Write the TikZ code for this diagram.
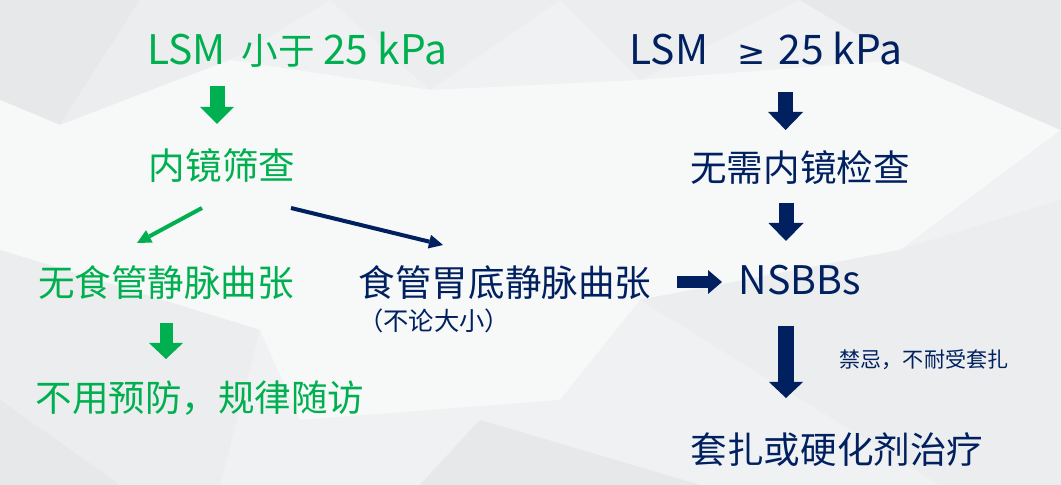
\documentclass[tikz,border=0pt]{standalone}
\usepackage{fontspec}
\setmainfont{Noto Sans CJK SC}
\newfontfamily\symfont{DejaVu Sans}
\usepackage{tikz}
\usetikzlibrary{arrows.meta,positioning}
\definecolor{lsmgreen}{HTML}{00B050}
\definecolor{lsmnavy}{HTML}{002060}
\definecolor{bgbase}{HTML}{F0F1F2}
\definecolor{bglight}{HTML}{F7F8F8}
\definecolor{bgdark}{HTML}{E7E8E9}
\definecolor{bgmid}{HTML}{ECEDEE}
\newcommand\latn[1]{{\fontsize{29}{30}\selectfont #1}}

\begin{document}
\begin{tikzpicture}[
  big/.style={font=\fontsize{26}{30}\selectfont, inner sep=1pt},
  gtxt/.style={big, text=lsmgreen},
  ntxt/.style={big, text=lsmnavy},
]
% background
\useasboundingbox (0,0) rectangle (26.525,12.125);
\fill[bgbase] (0,0) rectangle (26.525,12.125);
\begin{scope}[shift={(0,12.125)}, x=0.025cm, y=-0.025cm]
\fill[bgdark] (0,0) -- (140,0) -- (60,125) -- (0,100) -- cycle;
\fill[bgmid] (140,0) -- (330,0) -- (230,60) -- (60,125) -- cycle;
\fill[bgmid] (330,0) -- (560,0) -- (430,90) -- cycle;
\fill[bglight] (60,125) -- (230,60) -- (430,90) -- (520,230) -- (260,330) -- (0,250) -- (0,100) -- cycle;
\fill[bglight] (430,90) -- (640,80) -- (900,60) -- (1061,130) -- (900,250) -- (640,300) -- (520,230) -- cycle;
\fill[bgmid] (560,0) -- (800,0) -- (640,80) -- cycle;
\fill[bgdark] (800,0) -- (1061,0) -- (1061,130) -- (900,60) -- cycle;
\fill[bgmid] (0,250) -- (260,330) -- (220,485) -- (0,485) -- cycle;
\fill[bgdark] (0,400) -- (120,485) -- (0,485) -- cycle;
\fill[bgmid] (640,300) -- (900,250) -- (1061,200) -- (1061,485) -- (940,485) -- cycle;
\fill[bgdark] (480,420) -- (700,485) -- (420,485) -- cycle;
\fill[bglight] (260,330) -- (520,230) -- (640,300) -- (560,400) -- (300,420) -- cycle;
\end{scope}

% left branch
\node (lsmL) [gtxt] at (7.425,10.875) {\latn{LSM}\hspace{0.45em}小于 \latn{25 kPa}};
\node (endoL) [gtxt] at (5.55,7.975) {内镜筛查};
\node (noVar) [gtxt] at (4.15,5.05) {无食管静脉曲张};
\node (noProph) [gtxt] at (5.0,2.175) {不用预防，规律随访};
\node (varices) [ntxt] at (12.625,5.05) {食管胃底静脉曲张};
\node (anySize) [font=\fontsize{18}{21}\selectfont, text=lsmnavy, inner sep=1pt] at (10.85,4.1) {（不论大小）};

% right branch
\node (lsmR) [ntxt] at (19.15,10.9) {\latn{LSM}\hspace{0.8em}{\symfont\fontsize{24}{30}\selectfont ≥}\hspace{0.35em}\latn{25 kPa}};
\node (noEndo) [ntxt] at (20.0,7.925) {无需内镜检查};
\node (nsbb) [ntxt] at (20.0,5.125) {\fontsize{28}{30}\selectfont NSBBs};
\node (band) [ntxt] at (20.925,0.875) {套扎或硬化剂治疗};

% arrow ends
\coordinate (gA1s) at (5.425,9.975);  \coordinate (gA1e) at (5.425,9.025);
\coordinate (gA2s) at (4.15,4.05);    \coordinate (gA2e) at (4.15,3.15);
\coordinate (nA1s) at (19.64,9.825);  \coordinate (nA1e) at (19.64,8.875);
\coordinate (nA2s) at (19.65,7.05);   \coordinate (nA2e) at (19.65,6.1);
\coordinate (hAs) at (16.925,5.075);  \coordinate (hAe) at (18.05,5.075);
\coordinate (bigAs) at (19.65,3.975); \coordinate (bigAe) at (19.65,2.175);
\coordinate (gTs) at (5.05,6.925);    \coordinate (gTe) at (3.425,6.05);
\coordinate (nTs) at (7.275,6.925);   \coordinate (nTe) at (11.075,6.0);

% block arrows
\draw[lsmgreen, line width=0.375cm, -{Triangle[length=0.425cm,width=0.85cm,line width=0pt]}] (gA1s) -- (gA1e);
\draw[lsmgreen, line width=0.325cm, -{Triangle[length=0.4cm,width=0.85cm,line width=0pt]}] (gA2s) -- (gA2e);
\draw[lsmnavy, line width=0.375cm, -{Triangle[length=0.45cm,width=0.875cm,line width=0pt]}] (nA1s) -- (nA1e);
\draw[lsmnavy, line width=0.375cm, -{Triangle[length=0.45cm,width=0.875cm,line width=0pt]}] (nA2s) -- (nA2e);
\draw[lsmnavy, line width=0.3cm, -{Triangle[length=0.35cm,width=0.6cm,line width=0pt]}] (hAs) -- (hAe);
\draw[lsmnavy, line width=0.4cm, -{Triangle[length=0.4cm,width=0.85cm,line width=0pt]}] (bigAs) -- (bigAe);

% thin arrows
\draw[lsmgreen, line width=0.1cm, -{Triangle[length=0.35cm,width=0.35cm,line width=0pt]}] (gTs) -- (gTe);
\draw[lsmnavy, line width=0.1cm, -{Triangle[length=0.35cm,width=0.35cm,line width=0pt]}] (nTs) -- (nTe);

\node (contra) [font=\fontsize{15}{18}\selectfont, text=lsmnavy, inner sep=1pt,
  right=1.3cm of bigAs, yshift=-0.85cm] {禁忌，不耐受套扎};
\end{tikzpicture}
\end{document}
